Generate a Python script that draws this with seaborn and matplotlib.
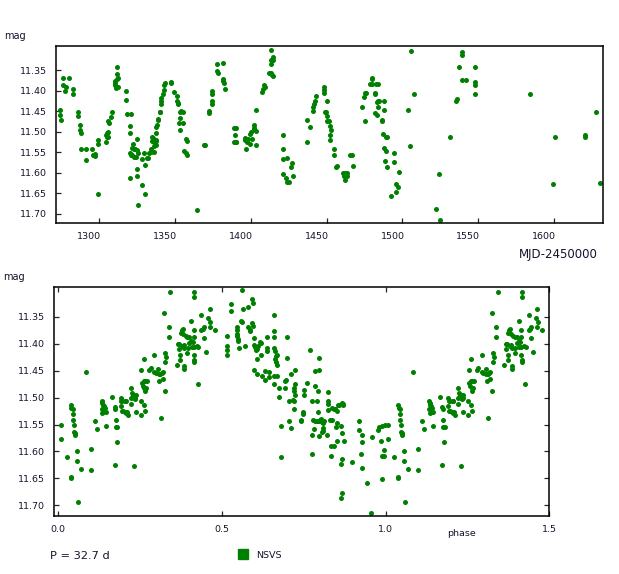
"""
NSVS light curve and phased curve (P = 32.7 d), redrawn with seaborn.
"""

import matplotlib
matplotlib.use("Agg")
import matplotlib.pyplot as plt
import matplotlib.transforms as mtransforms
from matplotlib.lines import Line2D
import pandas as pd
import seaborn as sns

GREEN = "#008000"
TEXT = "#14142e"
PERIOD_LABEL = "P = 32.7 d"
SERIES_NAME = "NSVS"

MAG_TICKS = [11.35, 11.40, 11.45, 11.50, 11.55, 11.60, 11.65, 11.70]
MJD_TICKS = [1300, 1350, 1400, 1450, 1500, 1550, 1600]
PHASE_TICKS = [0.0, 0.5, 1.0, 1.5]

# light curve
mjd = [
    1274.1, 1274.3, 1274.5, 1275.9, 1275.9, 1277.4, 1278.1, 1280.0, 1282.5, 1282.5,
    1285.7, 1285.7, 1287.1, 1287.3, 1287.9, 1287.7, 1291.0, 1291.0, 1295.0, 1295.9,
    1296.6, 1297.1, 1297.1, 1298.9, 1298.9, 1298.9, 1304.2, 1304.4, 1304.8, 1305.0,
    1305.5, 1305.9, 1306.1, 1306.4, 1307.9, 1308.3, 1310.3, 1310.3, 1310.5, 1311.0,
    1311.4, 1311.6, 1311.4, 1312.1, 1311.2, 1312.5, 1317.5, 1317.5, 1318.2, 1320.8,
    1320.6, 1320.6, 1322.1, 1321.9, 1320.0, 1321.1, 1321.9, 1322.8, 1323.5, 1324.6,
    1324.6, 1323.2, 1324.1, 1325.9, 1320.0, 1324.8, 1324.8, 1327.9, 1327.9, 1325.9,
    1330.0, 1330.0, 1329.8, 1331.6, 1332.0, 1332.9, 1334.4, 1334.4, 1335.3, 1336.0,
    1334.6, 1335.1, 1335.5, 1336.4, 1337.3, 1336.0, 1337.3, 1337.7, 1337.3, 1337.7,
    1338.4, 1338.8, 1339.0, 1339.9, 1339.9, 1340.6, 1340.8, 1340.6, 1342.3, 1343.0,
    1342.5, 1343.2, 1347.6, 1347.6, 1349.1, 1351.5, 1351.5, 1351.8, 1351.8, 1353.1,
    1353.1, 1352.6, 1353.7, 1355.5, 1353.5, 1355.5, 1355.7, 1357.0, 1357.7, 1357.5,
    1357.9, 1364.7, 1369.1, 1369.5, 1372.4, 1372.4, 1374.6, 1374.6, 1374.6, 1374.6,
    1377.9, 1377.9, 1378.3, 1381.6, 1381.6, 1381.6, 1382.1, 1382.7, 1388.8, 1388.8,
    1389.7, 1389.9, 1390.5, 1390.5, 1396.2, 1396.2, 1396.9, 1397.3, 1398.2, 1399.6,
    1399.6, 1400.4, 1400.9, 1401.8, 1402.4, 1402.0, 1403.1, 1403.6, 1403.6, 1407.6,
    1408.0, 1408.9, 1409.1, 1412.0, 1413.3, 1413.3, 1413.8, 1414.7, 1414.7, 1413.6,
    1413.3, 1414.2, 1414.9, 1420.9, 1420.9, 1420.9, 1420.9, 1423.6, 1423.1, 1424.0,
    1425.1, 1426.2, 1426.9, 1427.6, 1436.9, 1436.9, 1438.9, 1440.9, 1441.1, 1441.8,
    1442.2, 1442.9, 1448.4, 1448.4, 1448.4, 1450.2, 1448.7, 1449.6, 1450.0, 1450.2,
    1451.8, 1452.4, 1452.9, 1452.4, 1452.2, 1455.1, 1455.1, 1456.4, 1456.9, 1460.9,
    1461.3, 1462.4, 1463.1, 1461.8, 1463.1, 1465.1, 1466.9, 1467.3, 1473.6, 1474.4,
    1475.3, 1476.2, 1475.6, 1478.7, 1479.6, 1479.6, 1480.0, 1481.8, 1482.2, 1482.4,
    1484.2, 1483.8, 1482.9, 1483.6, 1484.7, 1481.6, 1483.3, 1486.2, 1486.4, 1487.6,
    1487.6, 1487.3, 1489.3, 1489.6, 1488.0, 1489.1, 1489.6, 1488.2, 1494.2, 1494.4,
    1496.0, 1497.1, 1497.8, 1495.8, 1492.4, 1503.8, 1505.1, 1505.8, 1507.6, 1522.0,
    1524.7, 1524.0, 1531.3, 1535.2, 1535.9, 1537.2, 1539.6, 1539.6, 1539.6, 1541.6,
    1547.8, 1547.8, 1547.8, 1547.8, 1584.1, 1599.3, 1600.7, 1620.5, 1620.5, 1627.8,
    1630.4,
]
mag_lc = [
    11.448, 11.459, 11.471, 11.368, 11.387, 11.400, 11.390, 11.368, 11.395, 11.409,
    11.451, 11.461, 11.483, 11.496, 11.504, 11.543, 11.543, 11.570, 11.541, 11.558,
    11.557, 11.559, 11.555, 11.521, 11.529, 11.651, 11.524, 11.508, 11.504, 11.512,
    11.500, 11.512, 11.473, 11.479, 11.465, 11.452, 11.377, 11.382, 11.386, 11.390,
    11.360, 11.343, 11.371, 11.369, 11.393, 11.390, 11.400, 11.422, 11.458, 11.456,
    11.487, 11.502, 11.529, 11.540, 11.551, 11.556, 11.557, 11.542, 11.542, 11.544,
    11.518, 11.561, 11.562, 11.551, 11.612, 11.590, 11.607, 11.566, 11.631, 11.678,
    11.582, 11.653, 11.553, 11.564, 11.565, 11.552, 11.549, 11.543, 11.516, 11.550,
    11.523, 11.513, 11.520, 11.524, 11.521, 11.534, 11.533, 11.522, 11.504, 11.489,
    11.483, 11.471, 11.469, 11.453, 11.451, 11.433, 11.426, 11.417, 11.408, 11.398,
    11.386, 11.382, 11.380, 11.378, 11.404, 11.413, 11.426, 11.430, 11.433, 11.451,
    11.467, 11.479, 11.449, 11.451, 11.496, 11.479, 11.547, 11.552, 11.522, 11.518,
    11.557, 11.692, 11.533, 11.533, 11.449, 11.455, 11.426, 11.433, 11.409, 11.400,
    11.335, 11.353, 11.358, 11.333, 11.371, 11.377, 11.380, 11.396, 11.490, 11.524,
    11.508, 11.524, 11.490, 11.524, 11.516, 11.520, 11.541, 11.524, 11.517, 11.506,
    11.530, 11.500, 11.517, 11.490, 11.483, 11.494, 11.499, 11.532, 11.447, 11.404,
    11.396, 11.387, 11.392, 11.357, 11.335, 11.326, 11.325, 11.317, 11.325, 11.300,
    11.356, 11.361, 11.365, 11.508, 11.541, 11.567, 11.602, 11.563, 11.613, 11.622,
    11.622, 11.585, 11.577, 11.607, 11.471, 11.524, 11.488, 11.449, 11.439, 11.433,
    11.424, 11.413, 11.390, 11.398, 11.406, 11.424, 11.451, 11.451, 11.461, 11.475,
    11.474, 11.486, 11.496, 11.508, 11.520, 11.541, 11.557, 11.587, 11.583, 11.600,
    11.608, 11.617, 11.609, 11.601, 11.600, 11.558, 11.556, 11.583, 11.439, 11.416,
    11.406, 11.406, 11.475, 11.384, 11.372, 11.368, 11.384, 11.406, 11.409, 11.384,
    11.384, 11.425, 11.427, 11.439, 11.426, 11.455, 11.459, 11.471, 11.474, 11.425,
    11.447, 11.506, 11.512, 11.514, 11.540, 11.548, 11.585, 11.571, 11.551, 11.575,
    11.628, 11.635, 11.598, 11.647, 11.658, 11.447, 11.536, 11.302, 11.408, 11.688,
    11.715, 11.602, 11.513, 11.426, 11.420, 11.343, 11.305, 11.313, 11.375, 11.375,
    11.343, 11.378, 11.385, 11.409, 11.409, 11.627, 11.514, 11.508, 11.512, 11.451,
    11.624,
]

# phased points (0..1)
phase = [
    0.007, 0.007, 0.026, 0.038, 0.040, 0.045, 0.044, 0.044, 0.047, 0.048,
    0.051, 0.051, 0.038, 0.038, 0.056, 0.056, 0.069, 0.060, 0.084, 0.099,
    0.099, 0.111, 0.118, 0.133, 0.135, 0.137, 0.140, 0.142, 0.138, 0.135,
    0.133, 0.145, 0.146, 0.165, 0.173, 0.174, 0.176, 0.176, 0.180, 0.179,
    0.173, 0.191, 0.193, 0.196, 0.205, 0.206, 0.191, 0.195, 0.198, 0.204,
    0.206, 0.212, 0.210, 0.222, 0.224, 0.227, 0.230, 0.233, 0.235, 0.237,
    0.230, 0.222, 0.234, 0.222, 0.237, 0.230, 0.252, 0.252, 0.254, 0.255,
    0.261, 0.265, 0.270, 0.258, 0.263, 0.268, 0.265, 0.261, 0.265, 0.262,
    0.278, 0.283, 0.293, 0.298, 0.306, 0.307, 0.312, 0.316, 0.320, 0.309,
    0.320, 0.293, 0.314, 0.326, 0.324, 0.327, 0.327, 0.330, 0.338, 0.338,
    0.342, 0.363, 0.367, 0.368, 0.373, 0.373, 0.370, 0.375, 0.377, 0.380,
    0.382, 0.379, 0.383, 0.385, 0.385, 0.385, 0.390, 0.394, 0.396, 0.394,
    0.401, 0.401, 0.406, 0.408, 0.411, 0.414, 0.414, 0.414, 0.416, 0.416,
    0.414, 0.406, 0.416, 0.416, 0.424, 0.428, 0.427, 0.437, 0.437, 0.442,
    0.444, 0.444, 0.450, 0.459, 0.463, 0.463, 0.465, 0.478,
    0.516, 0.516, 0.516, 0.516, 0.529, 0.529, 0.562, 0.563, 0.580, 0.592,
    0.595, 0.545, 0.547, 0.545, 0.547, 0.549, 0.550, 0.552, 0.559, 0.560,
    0.572, 0.580, 0.585, 0.587, 0.592, 0.595, 0.598, 0.598, 0.601, 0.608,
    0.610, 0.605, 0.616, 0.620, 0.608, 0.620, 0.599, 0.608, 0.623, 0.633,
    0.633, 0.644, 0.644, 0.638, 0.638, 0.638, 0.659, 0.660, 0.660, 0.658,
    0.663, 0.666, 0.668, 0.663, 0.666, 0.668, 0.660, 0.668, 0.659, 0.699,
    0.699, 0.675, 0.675, 0.681, 0.681, 0.694, 0.696, 0.694, 0.705, 0.711,
    0.717, 0.719, 0.721, 0.719, 0.721, 0.724, 0.724, 0.724, 0.705, 0.711,
    0.747, 0.747, 0.741, 0.741, 0.752, 0.752, 0.760, 0.770, 0.776, 0.776,
    0.776, 0.778, 0.785, 0.780, 0.790, 0.793, 0.798, 0.800, 0.804, 0.807,
    0.810, 0.812, 0.810, 0.805, 0.808, 0.796, 0.785, 0.797, 0.797, 0.785,
    0.793, 0.790, 0.793, 0.822, 0.823, 0.824, 0.824, 0.823, 0.831, 0.837,
    0.841, 0.844, 0.846, 0.851, 0.856, 0.858, 0.866, 0.869, 0.869, 0.836,
    0.847, 0.851, 0.851, 0.833, 0.843, 0.833, 0.863, 0.866, 0.873, 0.866,
    0.864, 0.866, 0.863, 0.897, 0.919, 0.919, 0.927, 0.928, 0.926, 0.928,
    0.942, 0.955, 0.958, 0.978, 0.981, 0.989, 0.999, 0.986, 0.994, 0.988,
    0.994, 0.988,
]
mag_ph = [
    11.550, 11.576, 11.610, 11.514, 11.520, 11.522, 11.530, 11.541, 11.550, 11.563,
    11.566, 11.569, 11.648, 11.650, 11.600, 11.617, 11.632, 11.694, 11.452, 11.596,
    11.635, 11.544, 11.558, 11.507, 11.510, 11.513, 11.516, 11.519, 11.527, 11.529,
    11.521, 11.526, 11.552, 11.498, 11.518, 11.521, 11.541, 11.555, 11.555, 11.583,
    11.625, 11.500, 11.507, 11.506, 11.507, 11.506, 11.516, 11.524, 11.525, 11.527,
    11.529, 11.532, 11.526, 11.483, 11.491, 11.495, 11.498, 11.495, 11.501, 11.496,
    11.501, 11.501, 11.503, 11.512, 11.527, 11.627, 11.507, 11.532, 11.448, 11.472,
    11.470, 11.470, 11.470, 11.479, 11.482, 11.483, 11.488, 11.514, 11.524, 11.428,
    11.449, 11.445, 11.452, 11.454, 11.446, 11.457, 11.456, 11.454, 11.452, 11.470,
    11.465, 11.420, 11.537, 11.487, 11.343, 11.418, 11.434, 11.425, 11.368, 11.388,
    11.304, 11.439, 11.401, 11.410, 11.421, 11.431, 11.401, 11.379, 11.375, 11.372,
    11.381, 11.405, 11.402, 11.408, 11.441, 11.447, 11.386, 11.387, 11.408, 11.417,
    11.387, 11.398, 11.395, 11.406, 11.397, 11.388, 11.406, 11.421, 11.434, 11.431,
    11.375, 11.358, 11.304, 11.313, 11.405, 11.406, 11.475, 11.346, 11.375, 11.372,
    11.369, 11.389, 11.415, 11.352, 11.336, 11.369, 11.360, 11.375,
    11.386, 11.405, 11.412, 11.421, 11.326, 11.339, 11.300, 11.336, 11.332, 11.317,
    11.325, 11.374, 11.369, 11.382, 11.386, 11.392, 11.395, 11.408, 11.358, 11.360,
    11.405, 11.368, 11.375, 11.377, 11.362, 11.366, 11.389, 11.403, 11.406, 11.409,
    11.405, 11.412, 11.397, 11.398, 11.428, 11.421, 11.449, 11.457, 11.459, 11.450,
    11.467, 11.453, 11.461, 11.388, 11.408, 11.413, 11.346, 11.377, 11.387, 11.408,
    11.414, 11.422, 11.421, 11.428, 11.434, 11.439, 11.460, 11.459, 11.475, 11.387,
    11.427, 11.482, 11.498, 11.552, 11.611, 11.470, 11.467, 11.482, 11.506, 11.457,
    11.505, 11.487, 11.483, 11.507, 11.521, 11.475, 11.496, 11.448, 11.544, 11.557,
    11.527, 11.530, 11.541, 11.544, 11.485, 11.495, 11.472, 11.411, 11.507, 11.569,
    11.604, 11.542, 11.544, 11.558, 11.544, 11.543, 11.544, 11.541, 11.540, 11.545,
    11.547, 11.543, 11.557, 11.563, 11.562, 11.571, 11.450, 11.448, 11.426, 11.479,
    11.487, 11.507, 11.526, 11.570, 11.490, 11.507, 11.511, 11.523, 11.541, 11.519,
    11.521, 11.522, 11.521, 11.524, 11.513, 11.514, 11.510, 11.511, 11.513, 11.541,
    11.555, 11.547, 11.581, 11.589, 11.589, 11.608, 11.552, 11.565, 11.581, 11.614,
    11.623, 11.678, 11.687, 11.620, 11.543, 11.560, 11.569, 11.583, 11.604, 11.630,
    11.658, 11.714, 11.574, 11.561, 11.555, 11.553, 11.550, 11.581, 11.598, 11.608,
    11.609, 11.652,
]


def style_axis(ax, all_sides):
    ax.set_xlabel("")
    ax.set_ylabel("")
    for sp in ax.spines.values():
        sp.set_visible(True)
        sp.set_linewidth(1.1)
        sp.set_color("black")
    ax.tick_params(direction="in", length=3.5, width=0.9, labelsize=6.8,
                   pad=6.5, labelcolor=TEXT, top=all_sides, right=all_sides)
    ax.set_yticks(MAG_TICKS)
    ax.set_yticklabels([f"{v:.2f}" for v in MAG_TICKS])


def main():
    sns.set_style("ticks")
    plt.rcParams["font.family"] = ["DejaVu Sans"]

    lc = pd.DataFrame({"mjd": mjd, "mag": mag_lc})
    ph = pd.DataFrame({"phase": phase, "mag": mag_ph})
    # second half-cycle repeats the first half
    ph = pd.concat([ph, ph[ph["phase"] < 0.5].assign(phase=lambda d: d["phase"] + 1.0)])

    fig = plt.figure(figsize=(6.19, 5.74), dpi=100)
    ax1 = fig.add_axes([0.0905, 0.612, 0.8842, 0.3078])
    ax2 = fig.add_axes([0.0877, 0.1005, 0.7997, 0.399])

    sns.scatterplot(data=lc, x="mjd", y="mag", ax=ax1, color=GREEN, s=13,
                    linewidth=0, legend=False)
    sns.scatterplot(data=ph, x="phase", y="mag", ax=ax2, color=GREEN, s=13,
                    linewidth=0, legend=False)

    # upper panel
    style_axis(ax1, all_sides=False)
    ax1.set_xlim(1271.5, 1632.5)
    ax1.set_ylim(11.722, 11.291)
    ax1.set_xticks(MJD_TICKS)
    ax1.set_xticklabels([str(v) for v in MJD_TICKS])
    shift = mtransforms.ScaledTranslation(2 / 100, 0, fig.dpi_scale_trans)
    for lab in ax1.get_xticklabels():
        lab.set_horizontalalignment("right")
        lab.set_transform(lab.get_transform() + shift)

    # lower panel
    style_axis(ax2, all_sides=True)
    ax2.set_xlim(-0.012, 1.5)
    ax2.set_ylim(11.7205, 11.295)
    ax2.set_xticks(PHASE_TICKS)
    ax2.set_xticklabels([f"{v:.1f}" for v in PHASE_TICKS])

    W, H = 619, 574
    fig.text(4 / W, 1 - 36 / H, "mag", fontsize=7, va="center", color=TEXT)
    fig.text(3 / W, 1 - 277 / H, "mag", fontsize=7, va="center", color=TEXT)
    fig.text(598 / W, 1 - 254.5 / H, "MJD-2450000", fontsize=8.5, ha="right",
             va="center", color=TEXT)
    fig.text(461.7 / W, 1 - 533 / H, "phase", fontsize=6.8, ha="center",
             va="center", color=TEXT)
    fig.text(50 / W, 1 - 556 / H, PERIOD_LABEL, fontsize=8.2, va="center",
             color=TEXT)

    handle = Line2D([], [], marker="s", color=GREEN, linestyle="none", markersize=7.2)
    fig.legend(handles=[handle], labels=[SERIES_NAME], loc="center left",
               bbox_to_anchor=(238.5 / W, 1 - 555 / H), frameon=False,
               borderpad=0, borderaxespad=0, handlelength=1.0,
               handletextpad=0.9, fontsize=6.8, labelcolor=TEXT)

    fig.savefig("out.png", dpi=100)
    plt.close(fig)


if __name__ == "__main__":
    main()
